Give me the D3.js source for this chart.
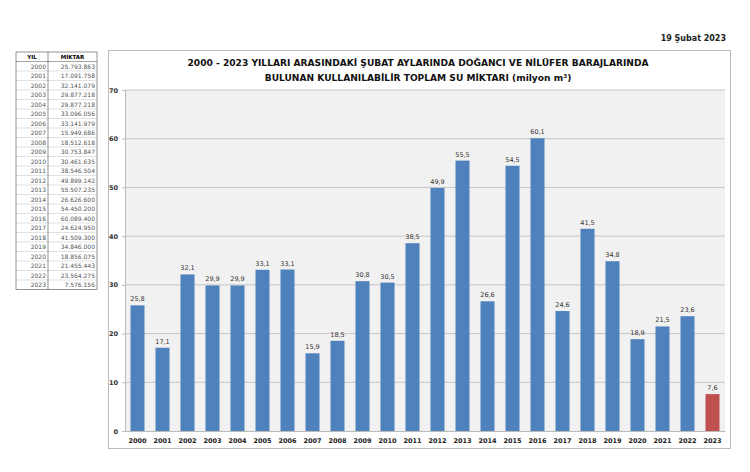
<!DOCTYPE html>
<html>
<head>
<meta charset="utf-8">
<script src="https://cdn.jsdelivr.net/npm/d3@7"></script>
<style>
  body { margin: 0; background: #fff; }
  svg { display: block; font-family: "DejaVu Sans", sans-serif; }
</style>
</head>
<body>
<svg id="chart" width="750" height="472"></svg>
<script>
// years and water amounts (m3) from the table
var years = ["2000","2001","2002","2003","2004","2005","2006","2007","2008","2009","2010","2011",
             "2012","2013","2014","2015","2016","2017","2018","2019","2020","2021","2022","2023"];
var amounts = [25793863, 17091758, 32141079, 29877218, 29877218, 33096056, 33141979, 15949686,
               18512618, 30753847, 30461635, 38546504, 49899142, 55507235, 26626600, 54450200,
               60089400, 24624950, 41509300, 34846000, 18856075, 21455443, 23564275, 7576156];
var yTicks = [0, 10, 20, 30, 40, 50, 60, 70];

var titleLines = ["2000 - 2023 YILLARI ARASINDAKİ ŞUBAT AYLARINDA DOĞANCI VE NİLÜFER BARAJLARINDA",
                  "BULUNAN KULLANILABİLİR TOPLAM SU MİKTARI (milyon m³)"];

var data = years.map(function(y, i) { return {year: y, value: amounts[i] / 1e6, raw: amounts[i]}; });

var svg = d3.select("#chart");

// date top right
svg.append("text")
  .attr("x", 726).attr("y", 41)
  .attr("text-anchor", "end")
  .attr("font-size", 8).attr("font-weight", "bold").attr("fill", "#222")
  .text("19 Şubat 2023");

// ---- table on the left ----
var tbl = svg.append("g");
var tx0 = 16, tx1 = 48, tx2 = 97, rowH = 9.5, ty0 = 52;
var fmtTR = function(n) { return d3.format(",")(n).replace(/,/g, "."); };

tbl.append("text").attr("x", (tx0 + tx1) / 2).attr("y", ty0 + 7)
  .attr("text-anchor", "middle").attr("font-size", 5.5).attr("font-weight", "bold").text("YIL");
tbl.append("text").attr("x", (tx1 + tx2) / 2).attr("y", ty0 + 7)
  .attr("text-anchor", "middle").attr("font-size", 5.5).attr("font-weight", "bold").text("MİKTAR");

data.forEach(function(d, i) {
  var y = ty0 + rowH * (i + 1);
  tbl.append("line").attr("x1", tx0).attr("x2", tx2).attr("y1", y).attr("y2", y)
    .attr("stroke", i === 0 ? "#666" : "#ccc").attr("stroke-width", 0.6);
  tbl.append("text").attr("x", tx1 - 2).attr("y", y + 7)
    .attr("text-anchor", "end").attr("font-size", 6).attr("fill", "#555").text(d.year);
  tbl.append("text").attr("x", tx2 - 2).attr("y", y + 7)
    .attr("text-anchor", "end").attr("font-size", 6).attr("fill", "#555").text(fmtTR(d.raw));
});
var tyEnd = ty0 + rowH * (data.length + 1);
tbl.append("rect").attr("x", tx0).attr("y", ty0).attr("width", tx2 - tx0).attr("height", tyEnd - ty0)
  .attr("fill", "none").attr("stroke", "#666").attr("stroke-width", 0.7);
tbl.append("line").attr("x1", tx1).attr("x2", tx1).attr("y1", ty0).attr("y2", tyEnd)
  .attr("stroke", "#666").attr("stroke-width", 0.7);

// ---- chart frame ----
svg.append("rect").attr("x", 108.5).attr("y", 50.5).attr("width", 622).attr("height", 398)
  .attr("fill", "#fff").attr("stroke", "#bbb").attr("stroke-width", 1);

titleLines.forEach(function(t, i) {
  svg.append("text").attr("x", 418).attr("y", 66 + i * 15)
    .attr("text-anchor", "middle").attr("font-size", 9.1).attr("font-weight", "bold").attr("fill", "#111")
    .text(t);
});

var margin = {left: 125, right: 725, top: 90, bottom: 431};

var x = d3.scaleBand().domain(years).range([margin.left, margin.right]).paddingInner(0.44).paddingOuter(0.22);
var y = d3.scaleLinear().domain([0, 70]).range([margin.bottom, margin.top]);

svg.append("rect").attr("x", margin.left).attr("y", margin.top)
  .attr("width", margin.right - margin.left).attr("height", margin.bottom - margin.top)
  .attr("fill", "#f1f1f1");

// gridlines
svg.append("g").selectAll("line").data(yTicks.slice(1)).join("line")
  .attr("x1", margin.left).attr("x2", margin.right)
  .attr("y1", function(d) { return y(d); }).attr("y2", function(d) { return y(d); })
  .attr("stroke", "#c6c6c6").attr("stroke-width", 1);

// y axis
var yAxis = svg.append("g").attr("transform", "translate(" + margin.left + ",0)")
  .call(d3.axisLeft(y).tickValues(yTicks).tickSize(3).tickFormat(d3.format("d")));
yAxis.select(".domain").attr("stroke", "#bbb");
yAxis.selectAll(".tick line").attr("stroke", "#bbb");
yAxis.selectAll("text").attr("font-size", 6.5).attr("font-weight", "bold").attr("fill", "#333")
  .attr("font-family", "DejaVu Sans").attr("x", -7);

// x axis
var xAxis = svg.append("g").attr("transform", "translate(0," + margin.bottom + ")")
  .call(d3.axisBottom(x).tickSize(0).tickPadding(7));
xAxis.select(".domain").attr("stroke", "#bbb");
xAxis.selectAll("text").attr("font-size", 6.5).attr("font-weight", "bold").attr("fill", "#222")
  .attr("font-family", "DejaVu Sans");

// bars
svg.append("g").selectAll("rect").data(data).join("rect")
  .attr("x", function(d) { return x(d.year); })
  .attr("y", function(d) { return y(d.value); })
  .attr("width", x.bandwidth())
  .attr("height", function(d) { return y(0) - y(d.value); })
  .attr("fill", function(d) { return d.year === "2023" ? "#C0504D" : "#4F81BD"; });

// value labels
var fmtVal = function(v) { return d3.format(".1f")(v).replace(".", ","); };
svg.append("g").selectAll("text").data(data).join("text")
  .attr("x", function(d) { return x(d.year) + x.bandwidth() / 2; })
  .attr("y", function(d) { return y(d.value) - 4; })
  .attr("text-anchor", "middle").attr("font-size", 6.5).attr("fill", "#333")
  .text(function(d) { return fmtVal(d.value); });
</script>
</body>
</html>
